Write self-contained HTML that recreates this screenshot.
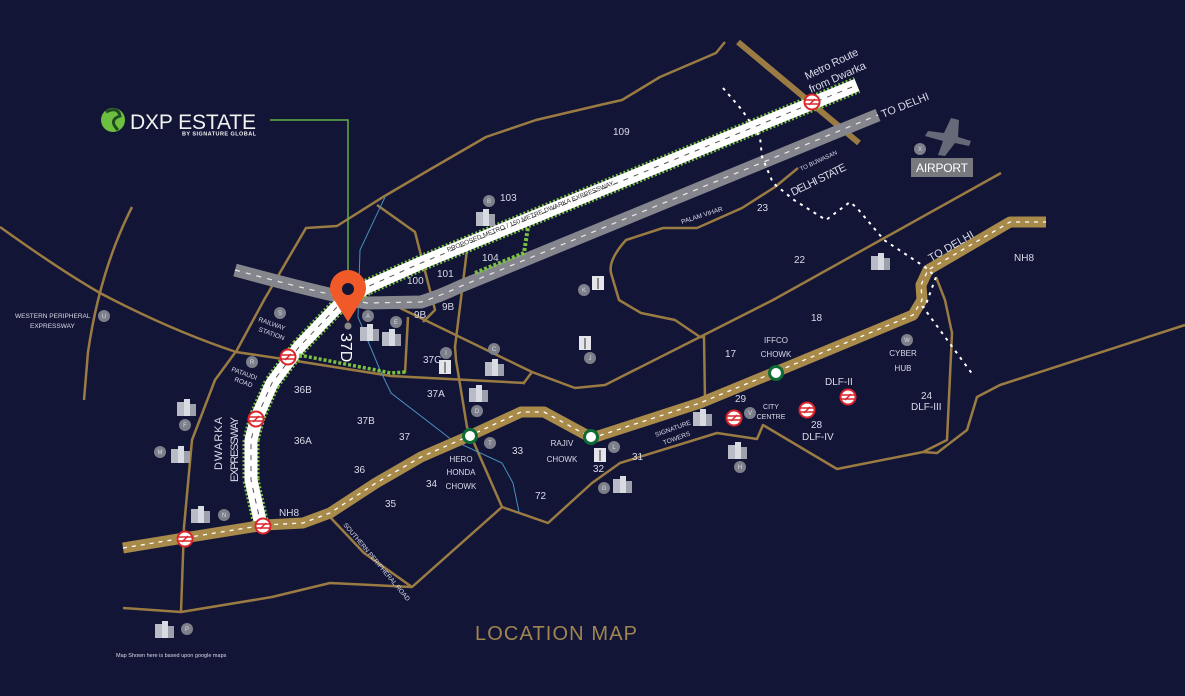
<!DOCTYPE html>
<html><head><meta charset="utf-8"><style>
html,body{margin:0;padding:0;background:#131537;}
svg{display:block}
text{font-family:"Liberation Sans",sans-serif;fill:#d8dbe8;}
</style></head><body>
<svg width="1185" height="696" viewBox="0 0 1185 696" xmlns="http://www.w3.org/2000/svg">
<rect width="1185" height="696" fill="#131537"/>
<defs>
<g id="metro"><circle r="7.5" fill="#fff" stroke="#d9262c" stroke-width="2"/><line x1="-7" y1="-2" x2="7" y2="-2" stroke="#d9262c" stroke-width="1.5"/><line x1="-7" y1="2" x2="7" y2="2" stroke="#d9262c" stroke-width="1.5"/><line x1="-3" y1="3" x2="3" y2="-3" stroke="#d9262c" stroke-width="1.5"/></g>
<g id="chowk"><circle r="6.5" fill="#fff" stroke="#0d6b35" stroke-width="3"/></g>
<g id="bld"><rect x="-9" y="-6" width="7" height="14" fill="#b9bcc6"/><rect x="-2" y="-9" width="6" height="17" fill="#d9dbe2"/><rect x="4" y="-4" width="6" height="12" fill="#9ea1ac"/></g>
<g id="tw"><rect x="-6" y="-7" width="12" height="14" fill="#e4e5ea"/><rect x="-1" y="-5" width="2" height="11" fill="#888"/></g>
</defs>

<g fill="none" stroke="#9a7b42" stroke-width="2.5" stroke-linejoin="round">
<path d="M0,227 Q60,270 100,293 Q170,330 236,352 L290,360 L391,376 L525,383"/>
<path d="M132,207 Q100,270 88,352 L84,400"/>
<path d="M181,612 L184,527 L192,440 L215,380 L237,350 L264,300 L306,228 L337,226 L383,197 L429,170 L486,137 L536,120 L600,105 L622,100 L660,77 L716,53 L725,42"/>
<path d="M123,608 L181,612 L272,597 L330,583 L412,587 L502,507 L548,523 L592,483 L620,463 L717,433 L757,439 L763,425 L837,469 L923,452 L947,440 L952,333 L945,300 L936,277"/>
<path d="M923,452 L937,453 L967,430 L977,397 L1000,385 L1185,325"/>
<path d="M330,517 L364,553 L412,587"/>
<path d="M377,205 L415,232 L435,310 L423,322"/>
<path d="M400,308 L532,372 L523,384"/>
<path d="M408,317 L405,373"/>
<path d="M467,250 L455,347 L456,360 L467,427 L502,507"/>
<path d="M532,372 L575,388 L605,385 L700,337 L773,300 L1001,173"/>
<path d="M798,168 L775,187 L742,208 L697,228 L663,228 L626,240 Q608,260 611,273 L619,300 L641,313 L675,320 L700,337 L704,337 L705,400"/>
</g>
<path d="M385,197 L360,250 L358,317 L380,370 L391,393 L452,440 L502,463 L513,483 L519,512" fill="none" stroke="#4a8fc0" stroke-width="1"/>

<line x1="738" y1="42" x2="859" y2="143" stroke="#9a7b42" stroke-width="6"/>

<path d="M235,270 Q290,285 333,295 Q350,300 367,303 L421,302 Q440,296 459,287 L878,115" fill="none" stroke="#85868d" stroke-width="13"/>
<path d="M235,270 Q290,285 333,295 Q350,300 367,303 L421,302 Q440,296 459,287 L878,115" fill="none" stroke="#e8e8e8" stroke-width="1.2" stroke-dasharray="5 6"/>

<path d="M261,525 L251,480 L251,440 L257,417 L272,383 L299,347 L337,307 L367,287 L421,263 L857,85" fill="none" stroke="#7ac142" stroke-width="17" stroke-dasharray="2 2"/>
<path d="M261,525 L251,480 L251,440 L257,417 L272,383 L299,347 L337,307 L367,287 L421,263 L857,85" fill="none" stroke="#fff" stroke-width="13"/>
<path d="M261,525 L251,480 L251,440 L257,417 L272,383 L299,347 L337,307 L367,287 L421,263 L857,85" fill="none" stroke="#555" stroke-width="1" stroke-dasharray="5 6"/>
<path d="M475,273 L524,253 L528,227" fill="none" stroke="#7ac142" stroke-width="4" stroke-dasharray="3 2"/>
<path d="M299,355 L391,373 L406,372" fill="none" stroke="#7ac142" stroke-width="3.5" stroke-dasharray="3 2"/>

<path d="M123,548 L184,538 L265,525 L303,523 L330,513 L376,483 L421,457 L467,437 L521,412 L544,412 L592,438 L700,403 L773,373 L913,315 L922,300 L921,285 L928,270 L1010,222 L1046,222" fill="none" stroke="#a88a4a" stroke-width="11" stroke-linejoin="round"/>
<path d="M123,548 L184,538 L265,525 L303,523 L330,513 L376,483 L421,457 L467,437 L521,412 L544,412 L592,438 L700,403 L773,373 L913,315 L922,300 L921,285 L928,270 L1010,222 L1046,222" fill="none" stroke="#fff" stroke-width="1.3" stroke-dasharray="4 5"/>

<path d="M723,88 L742,110 L760,137 L762,157 L773,183 L794,200 L826,220 L850,202 L857,208 L884,240 L925,267 L936,277 L925,307 L923,307 L973,375" fill="none" stroke="#fff" stroke-width="2" stroke-dasharray="3 5"/>

<polyline points="270,120 348,120 348,282" fill="none" stroke="#5fae46" stroke-width="1.5"/>
<circle cx="113" cy="120" r="12" fill="#6dbf3f"/>
<path d="M106,112 Q118,106 120,116 Q108,120 118,130" fill="none" stroke="#1f4a1f" stroke-width="3"/>
<text x="130" y="129" font-size="21" textLength="126" style="fill:#f2f2f2">DXP ESTATE</text>
<text x="182" y="135.5" font-size="5.5" font-weight="bold" textLength="74" style="fill:#f2f2f2">BY SIGNATURE GLOBAL</text>

<path d="M348,322 L333,298 A18,18 0 1 1 363,298 Z" fill="#f05a28"/>
<circle cx="348" cy="289" r="6" fill="#131537"/>
<circle cx="348" cy="326" r="3.5" fill="#888"/>
<text x="0" y="0" font-size="16" transform="translate(341,333) rotate(90)" style="fill:#fff">37D</text>

<g>
<use href="#metro" x="812" y="102"/><use href="#metro" x="288" y="357"/><use href="#metro" x="256" y="419"/><use href="#metro" x="263" y="526"/><use href="#metro" x="185" y="539"/><use href="#metro" x="734" y="418"/><use href="#metro" x="807" y="410"/><use href="#metro" x="848" y="397"/>
<use href="#chowk" x="470" y="436"/><use href="#chowk" x="591" y="437"/><use href="#chowk" x="776" y="373"/>
<use href="#bld" x="485" y="218"/><use href="#bld" x="369" y="333"/><use href="#bld" x="391" y="338"/><use href="#bld" x="494" y="368"/><use href="#bld" x="478" y="394"/><use href="#bld" x="186" y="408"/><use href="#bld" x="180" y="455"/><use href="#bld" x="200" y="515"/><use href="#bld" x="164" y="630"/><use href="#bld" x="622" y="485"/><use href="#bld" x="737" y="451"/><use href="#bld" x="702" y="418"/><use href="#bld" x="880" y="262"/>
<use href="#tw" x="598" y="283"/><use href="#tw" x="585" y="343"/><use href="#tw" x="445" y="367"/><use href="#tw" x="600" y="455"/>
</g>
<g font-size="6" text-anchor="middle">
<g fill="#7d7f8a">
<circle cx="489" cy="201" r="6"/><circle cx="368" cy="316" r="6"/><circle cx="396" cy="322" r="6"/><circle cx="280" cy="313" r="6"/><circle cx="252" cy="362" r="6"/><circle cx="185" cy="425" r="6"/><circle cx="160" cy="452" r="6"/><circle cx="224" cy="515" r="6"/><circle cx="187" cy="629" r="6"/><circle cx="104" cy="316" r="6"/><circle cx="584" cy="290" r="6"/><circle cx="590" cy="358" r="6"/><circle cx="494" cy="349" r="6"/><circle cx="446" cy="353" r="6"/><circle cx="477" cy="411" r="6"/><circle cx="490" cy="443" r="6"/><circle cx="614" cy="447" r="6"/><circle cx="604" cy="488" r="6"/><circle cx="740" cy="467" r="6"/><circle cx="750" cy="413" r="6"/><circle cx="907" cy="340" r="6"/><circle cx="920" cy="149" r="6"/>
</g>
<g style="fill:#fff">
<text x="489" y="203">B</text><text x="368" y="318">A</text><text x="396" y="324">E</text><text x="280" y="315">S</text><text x="252" y="364">R</text><text x="185" y="427">F</text><text x="160" y="454">M</text><text x="224" y="517">N</text><text x="187" y="631">P</text><text x="104" y="318">U</text><text x="584" y="292">K</text><text x="590" y="360">J</text><text x="494" y="351">C</text><text x="446" y="355">I</text><text x="477" y="413">D</text><text x="490" y="445">T</text><text x="614" y="449">L</text><text x="604" y="490">G</text><text x="740" y="469">H</text><text x="750" y="415">V</text><text x="907" y="342">W</text><text x="920" y="151">X</text>
</g>
</g>

<path d="M951,118 L944,133 L928,131 L925,136 L943,141 L938,155 L945,156 L955,143 L969,146 L971,141 L958,137 L959,120 Z" fill="#666a78"/>
<rect x="911" y="158" width="62" height="19" fill="#77797f"/>
<text x="942" y="172" font-size="12" text-anchor="middle" textLength="52" style="fill:#fff">AIRPORT</text>

<g font-size="10">
<text x="613" y="135">109</text><text x="500" y="201">103</text><text x="482" y="261">104</text><text x="437" y="277">101</text><text x="407" y="284">100</text><text x="442" y="310">9B</text><text x="414" y="318">9B</text>
<text x="423" y="363">37C</text><text x="427" y="397">37A</text><text x="294" y="393">36B</text><text x="357" y="424">37B</text><text x="399" y="440">37</text><text x="294" y="444">36A</text><text x="354" y="473">36</text><text x="426" y="487">34</text><text x="385" y="507">35</text><text x="512" y="454">33</text><text x="535" y="499">72</text><text x="593" y="472">32</text><text x="632" y="460">31</text>
<text x="725" y="357">17</text><text x="811" y="321">18</text><text x="794" y="263">22</text><text x="757" y="211">23</text><text x="735" y="402">29</text><text x="811" y="428">28</text><text x="921" y="399">24</text>
<text x="279" y="516">NH8</text><text x="1014" y="261">NH8</text>
<text x="825" y="385">DLF-II</text><text x="802" y="440">DLF-IV</text><text x="911" y="410">DLF-III</text>
</g>
<g font-size="8" text-anchor="middle">
<text x="776" y="343">IFFCO</text><text x="776" y="357">CHOWK</text>
<text x="903" y="356">CYBER</text><text x="903" y="371">HUB</text>
<text x="562" y="446">RAJIV</text><text x="562" y="462">CHOWK</text>
<text x="461" y="462">HERO</text><text x="461" y="475">HONDA</text><text x="461" y="489">CHOWK</text>
<text x="771" y="409" font-size="7">CITY</text><text x="771" y="419" font-size="7">CENTRE</text>
</g>
<g font-size="6.5">
<text x="15" y="318">WESTERN PERIPHERAL</text><text x="30" y="328">EXPRESSWAY</text>
<text transform="translate(258,321) rotate(20)">RAILWAY</text><text transform="translate(258,331) rotate(20)">STATION</text>
<text transform="translate(231,371) rotate(20)">PATAUDI</text><text transform="translate(234,381) rotate(20)">ROAD</text>
<text transform="translate(656,437) rotate(-20)">SIGNATURE</text><text transform="translate(664,445) rotate(-20)">TOWERS</text>
<text transform="translate(343,525) rotate(50)">SOUTHERN PERIPHERAL ROAD</text>
<text transform="translate(682,224) rotate(-18)">PALAM VIHAR</text>
<text transform="translate(801,171) rotate(-25)" font-size="6">TO BIJWASAN</text>
<text transform="translate(448,252) rotate(-22)" style="fill:#333">PROPOSED METRO / 150 METRE DWARKA EXPRESSWAY</text>
</g>
<g font-size="11">
<text transform="translate(222,470) rotate(-90)" textLength="53">DWARKA</text>
<text transform="translate(238,482) rotate(-90)" textLength="65">EXPRESSWAY</text>
<text transform="translate(793,196) rotate(-26)" textLength="60">DELHI STATE</text>
<text transform="translate(883,118) rotate(-22)">TO DELHI</text>
<text transform="translate(931,262) rotate(-30)">TO DELHI</text>
<text transform="translate(807,80) rotate(-26)" textLength="58">Metro Route</text>
<text transform="translate(811,93) rotate(-24)" textLength="61">from Dwarka</text>
</g>
<text x="475" y="640" font-size="20" textLength="162" style="fill:#a08550">LOCATION MAP</text>
<text x="116" y="657" font-size="5.5">Map Shown here is based upon google maps</text>
</svg>
</body></html>
